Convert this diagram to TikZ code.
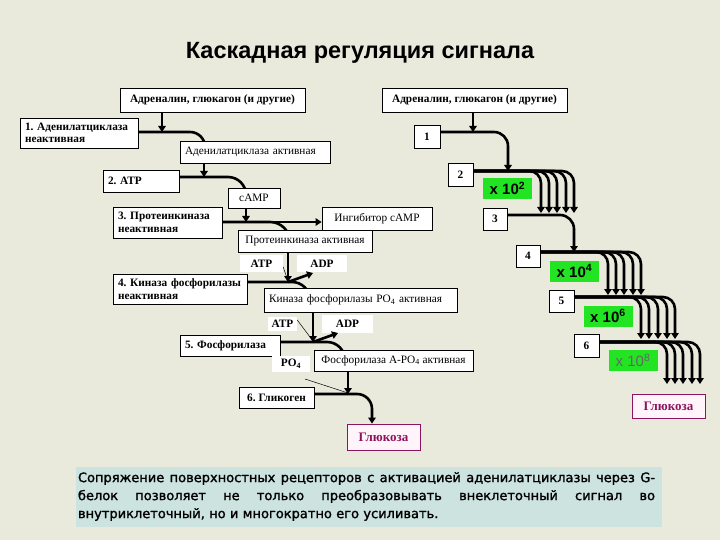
\documentclass[tikz,border=0pt]{standalone}
\usepackage{fontspec}
\setmainfont{Liberation Serif}
\newfontfamily\titlefont{Liberation Sans}
\newfontfamily\capfont[FakeBold=1.5]{DejaVu Sans}
\usetikzlibrary{arrows.meta,calc}
\pgfdeclarelayer{back}
\pgfdeclarelayer{bg}
\pgfsetlayers{back,bg,main}
\definecolor{paper}{RGB}{233,233,220}
\definecolor{capbg}{RGB}{204,227,224}
\definecolor{grn}{RGB}{34,228,34}
\definecolor{glc}{RGB}{140,20,95}
\definecolor{glcfill}{RGB}{255,244,250}
\newcommand\bxfont{\fontsize{11.3}{12.5}\selectfont}
\frenchspacing
\tikzset{
  box/.style={draw=black, fill=white, line width=0.7pt, inner sep=0pt, font=\bxfont},
  lbox/.style={box, align=left, inner xsep=5pt, inner ysep=0pt},
  nbox/.style={box, font=\bxfont\bfseries, minimum width=25pt, minimum height=23pt},
  gbox/.style={fill=grn, inner sep=0pt, minimum width=49pt, minimum height=21pt, font=\titlefont\bfseries\fontsize{15}{15}\selectfont},
  glbox/.style={draw=glc, fill=glcfill, line width=0.8pt, text=glc, inner sep=0pt, minimum width=73pt, font=\fontsize{13}{13}\selectfont\bfseries},
  lab/.style={fill=white, inner sep=0pt, font=\bxfont\bfseries},
  conn/.style={line width=2.6pt},
  arr/.style={conn, -{Triangle[length=6pt,width=7.5pt]}},
  thin/.style={line width=0.5pt}
}
\begin{document}
\begin{tikzpicture}[x=1pt,y=-1pt]
\begin{pgfonlayer}{back}
\fill[paper] (0,0) rectangle (720,540);
\end{pgfonlayer}
\useasboundingbox (0,0) rectangle (720,540);

% title
\node[font=\titlefont\bfseries\fontsize{23.5}{24}\selectfont] (title) at (360,53) {Каскадная регуляция сигнала};

% left column
\node[box, font=\bxfont\bfseries, minimum width=185pt, minimum height=24pt] (A1) at (212.5,100) {Адреналин, глюкагон (и другие)};
\node[lbox, font=\bxfont\bfseries, text width=108pt, minimum height=30pt] (B1) at (79,133) {1. Аденилатциклаза\\неактивная};
\node[lbox, text width=140pt, minimum height=22pt] (B1a) at (255,152) {Аденилатциклаза активная};
\node[lbox, font=\bxfont\bfseries, text width=66pt, minimum height=22pt] (B2) at (141,181) {2. АТР};
\node[box, minimum width=52pt, minimum height=20pt] (camp) at (254,198) {cAMP};
\node[lbox, font=\bxfont\bfseries, text width=99pt, minimum height=31pt] (B3) at (167.5,222.5) {3. Протеинкиназа\\неактивная};
\node[box, minimum width=110pt, minimum height=23pt] (inh) at (377,218.5) {Ингибитор cAMP};
\node[box, minimum width=134pt, minimum height=22pt] (B3a) at (305,241) {Протеинкиназа активная};
\node[lbox, font=\bxfont\bfseries, text width=124pt, minimum height=30pt] (B4) at (180,289) {4. Киназа фосфорилазы\\неактивная};
\node[lbox, text width=183pt, minimum height=24pt] (B4a) at (360.5,300) {Киназа фосфорилазы PO\textsubscript{4} активная};
\node[lbox, font=\bxfont\bfseries, text width=90pt, minimum height=21pt] (B5) at (230,345.5) {5. Фосфорилаза};
\node[box, minimum width=159pt, minimum height=21pt] (B5a) at (393.5,360.5) {Фосфорилаза A-PO\textsubscript{4} активная};
\node[box, font=\bxfont\bfseries, minimum width=75pt, minimum height=21pt] (B6) at (276.5,397.5) {6. Гликоген};
\node[glbox, minimum height=26pt] (glc1) at (383.5,437) {Глюкоза};

% labels
\node[lab, minimum width=43pt, minimum height=17pt] (atp1) at (261.5,263.5) {ATP};
\node[lab, minimum width=50pt, minimum height=17pt] (adp1) at (322,263.5) {ADP};
\node[lab, minimum width=29pt, minimum height=14pt] (atp2) at (282.5,323.5) {ATP};
\node[lab, minimum width=51pt, minimum height=18pt] (adp2) at (347.5,324) {ADP};
\node[lab, minimum width=38pt, minimum height=16pt] (po4) at (291,364) {PO\textsubscript{4}};

% right column
\node[box, font=\bxfont\bfseries, minimum width=185pt, minimum height=24pt] (A2) at (474.5,100) {Адреналин, глюкагон (и другие)};
\node[nbox, minimum width=26pt] (R1) at (427,136.5) {1};
\node[nbox] (R2) at (460.5,174.5) {2};
\node[nbox, minimum width=24pt, minimum height=22pt] (R3) at (495,219) {3};
\node[nbox, minimum width=24pt, minimum height=22pt] (R4) at (528,256) {4};
\node[nbox, minimum height=22pt] (R5) at (561.5,301) {5};
\node[nbox] (R6) at (586.5,345.5) {6};
\node[gbox] (g2) at (507.5,188.5) {x 10\textsuperscript{2}};
\node[gbox] (g4) at (574.5,271) {x 10\textsuperscript{4}};
\node[gbox] (g6) at (608,316) {x 10\textsuperscript{6}};
\node[gbox, text=black!60, font=\titlefont\fontsize{15}{15}\selectfont] (g8) at (633,360.5) {x 10\textsuperscript{8}};
\node[glbox, minimum height=24pt] (glc2) at (668.5,406) {Глюкоза};

% caption
\node[fill=capbg, minimum width=586pt, minimum height=60pt, inner sep=0pt] (capbox) at (369,497) {};
\node[font=\capfont\fontsize{13}{18}\selectfont, text width=577pt, align=left, inner sep=0pt] (cap) at (366.5,496.5)
{\hbox to 577pt{Сопряжение\hfill поверхностных\hfill рецепторов\hfill с\hfill активацией\hfill аденилатциклазы\hfill через\hfill G-}
\hbox to 577pt{белок\hfill позволяет\hfill не\hfill только\hfill преобразовывать\hfill внеклеточный\hfill сигнал\hfill во}
\hbox{внутриклеточный, но и многократно его усиливать.}};

% connectors hidden under boxes
\begin{pgfonlayer}{bg}
\draw[conn, rounded corners=15pt] (B1.east |- 0,132) -- (205,132) -- (205,160);
\draw[conn, rounded corners=18pt] (B2.east |- 0,177) -- (246,177) -- (246,200);
\draw[conn, rounded corners=20pt] (B3.east |- 0,222) -- (290,222) -- (290,245);
\draw[conn, rounded corners=18pt] (B4.east |- 0,282) -- (310,282) -- (310,300);
\draw[conn, rounded corners=18pt] (B5.east |- 0,342) -- (345,342) -- (345,362);
\end{pgfonlayer}

% left arrows
\draw[arr] (A1.south -| 162,0) -- (162,132);
\draw[arr] (B1a.south -| 204,0) -- (204,177);
\draw[arr] (camp.south -| 246,0) -- (246,222);
\draw[arr] (B3.east |- 0,222) -- (inh.west |- 0,222);
\draw[arr] (B3a.south -| 288,0) -- (288,282);
\draw[thin] (atp1.east |- 0,267) -- (288,281);
\draw[arr] (288,282) -- (313,273);
\draw[arr] (B4a.south -| 313,0) -- (313,342);
\draw[thin] (atp2.east |- 0,320) -- (313,341);
\draw[arr] (313,342) -- (338,333);
\draw[arr] (B5a.south -| 348,0) -- (348,394);
\draw[thin] (305,379) -- (348,393);
\draw[arr, rounded corners=15pt] (B6.east |- 0,394) -- (372,394) -- (glc1.north -| 372,0);

% right arrows
\draw[arr] (A2.south -| 473,0) -- (473,132);
\draw[arr, rounded corners=14pt] (R1.east |- 0,132) -- (508,132) -- (508,171);
\foreach \xx in {541,549,557,566,574}
  \draw[arr, rounded corners=12pt] (R2.east |- 0,171) -- (\xx,171) -- (\xx,213);
\draw[arr, rounded corners=14pt] (R3.east |- 0,215) -- (574,215) -- (574,252);
\foreach \xx in {608,616,624,633,641}
  \draw[arr, rounded corners=12pt] (R4.east |- 0,252) -- (\xx,252) -- (\xx,295);
\foreach \xx in {641,649,658,667,675}
  \draw[arr, rounded corners=12pt] (R5.east |- 0,297) -- (\xx,297) -- (\xx,339);
\foreach \xx in {667,675,683,692,700}
  \draw[arr, rounded corners=12pt] (R6.east |- 0,342) -- (\xx,342) -- (\xx,384);
\end{tikzpicture}
\end{document}
